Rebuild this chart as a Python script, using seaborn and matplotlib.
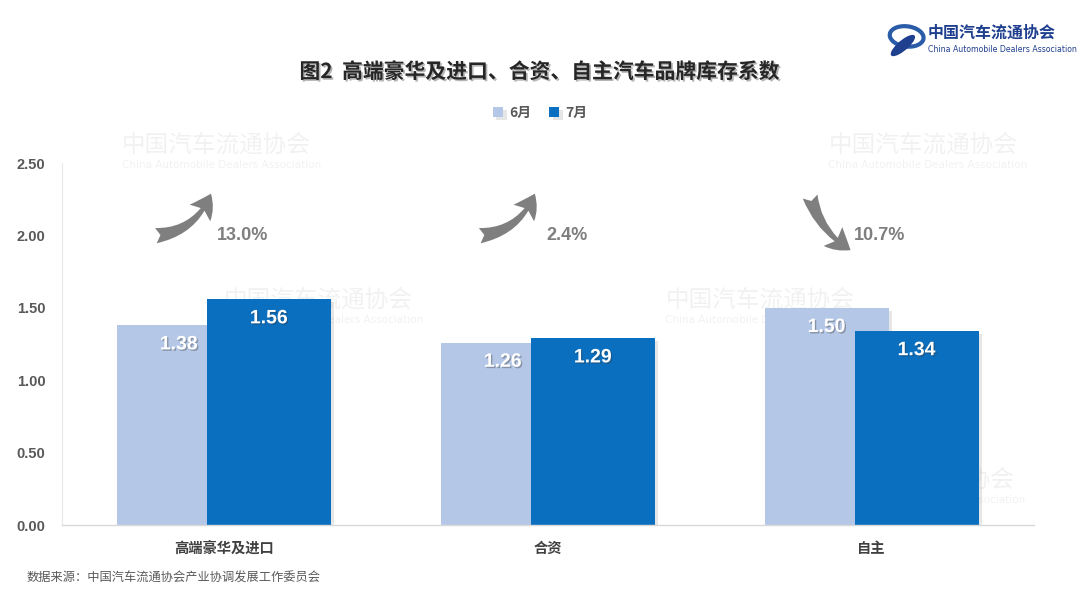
import numpy as np
import pandas as pd
import seaborn as sns
import matplotlib
matplotlib.use("Agg")
import matplotlib.pyplot as plt
import matplotlib.patheffects as pe
from matplotlib.patches import Ellipse

# ---- data ----
categories = ["高端豪华及进口", "合资", "自主"]
series_names = ["6月", "7月"]
june = [1.38, 1.26, 1.50]
july = [1.56, 1.29, 1.34]
change_labels = ["13.0%", "2.4%", "10.7%"]
change_dir = ["up", "up", "down"]
yticks = [0.0, 0.5, 1.0, 1.5, 2.0, 2.5]
title = "图2  高端豪华及进口、合资、自主汽车品牌库存系数"
source = "数据来源：中国汽车流通协会产业协调发展工作委员会"

sns.set_theme(style="white")
CJK = ["Noto Sans CJK SC", "DejaVu Sans"]
NUM = ["Liberation Sans", "DejaVu Sans"]
plt.rcParams["font.family"] = CJK
plt.rcParams["axes.unicode_minus"] = False

light = "#B4C7E7"
dark = "#0B6FBF"
grey_txt = "#595959"

fig = plt.figure(figsize=(10.8, 6.07), dpi=100)
fig.patch.set_facecolor("white")
ax = fig.add_axes([0.0574, 0.135, 0.8996, 0.596])
ax.patch.set_alpha(0)

# faint watermarks (behind the axes)
wm = [(0.113, 0.761), (0.767, 0.761), (0.207, 0.506), (0.616, 0.506), (0.765, 0.209)]
for (wx, wy) in wm:
    fig.text(wx, wy, "中国汽车流通协会", ha="left", va="center", fontsize=17,
             color="#000000", alpha=0.055, family=CJK, zorder=-5)
    fig.text(wx, wy - 0.033, "China Automobile Dealers Association", ha="left", va="center",
             fontsize=7.5, color="#000000", alpha=0.055, family=["DejaVu Sans"], zorder=-5)

pos = np.arange(len(categories))
off = 0.139
bw = 0.383
df1 = pd.DataFrame({"x": pos - off, "y": june})
df2 = pd.DataFrame({"x": pos + off, "y": july})

shadow = [pe.SimplePatchShadow(offset=(2.5, -2), alpha=0.18, shadow_rgbFace="#777777"), pe.Normal()]

sns.barplot(data=df1, x="x", y="y", native_scale=True, orient="x", width=bw,
            color=light, saturation=1, errorbar=None, ax=ax, label=series_names[0])
sns.barplot(data=df2, x="x", y="y", native_scale=True, orient="x", width=bw,
            color=dark, saturation=1, errorbar=None, ax=ax, label=series_names[1])
for p in ax.patches:
    p.set_path_effects(shadow)
    p.set_edgecolor("none")
if ax.get_legend() is not None:
    ax.get_legend().remove()

ax.set_xlim(-0.5, 2.5)
ax.set_ylim(0, 2.5)
ax.set_xticks(pos)
ax.set_xticklabels(categories, fontsize=10.3, color="#404040", fontweight="bold", family=CJK)
ax.set_yticks(yticks)
ax.set_yticklabels([f"{v:.2f}" for v in yticks], fontsize=10.5, color=grey_txt,
                   fontweight="bold", family=NUM)
ax.set_xlabel("")
ax.set_ylabel("")
ax.tick_params(axis="x", length=0, pad=12)
ax.tick_params(axis="y", length=3, width=0.8, color="#E3E3E3", pad=9, direction="out")
for s in ["top", "right"]:
    ax.spines[s].set_visible(False)
ax.spines["left"].set_color("#E8E8E8")
ax.spines["left"].set_linewidth(0.8)
ax.spines["bottom"].set_color("#D9D9D9")
ax.spines["bottom"].set_linewidth(1)
ax.grid(False)

# value labels inside bars
txt_shadow = [pe.withSimplePatchShadow(offset=(1, -1), alpha=0.35, shadow_rgbFace="#333333")]
for vals, sgn in ((june, -1), (july, 1)):
    for i, v in enumerate(vals):
        ax.text(i + sgn * off, v - 0.135, f"{v:.2f}", ha="center", va="center",
                color="white", fontsize=14, fontweight="bold", family=NUM,
                path_effects=txt_shadow)

# change arrows
for i, (lab, d) in enumerate(zip(change_labels, change_dir)):
    if d == "up":
        tail, head, rad = (i - 0.21, 2.0), (i - 0.04, 2.29), 0.3
    else:
        tail, head, rad = (i - 0.19, 2.27), (i - 0.065, 1.90), 0.2
    ax.annotate("", xy=head, xytext=tail,
                arrowprops=dict(arrowstyle="fancy,head_length=0.8,head_width=0.95,tail_width=0.55",
                                connectionstyle=f"arc3,rad={rad}", color="#7F7F7F",
                                mutation_scale=20, shrinkA=0, shrinkB=0, lw=0))
    ax.text(i + 0.058 - (0.033 if d == "down" else 0), 2.0, lab, ha="center", va="center",
            fontsize=13, fontweight="bold", color="#7F7F7F", family=NUM)

# legend
leg = fig.legend(loc="center", bbox_to_anchor=(0.5, 0.814), ncol=2, frameon=False,
                 handlelength=0.75, handleheight=0.75, columnspacing=1.3, handletextpad=0.4,
                 prop={"family": CJK, "weight": "bold", "size": 10})
for t in leg.get_texts():
    t.set_color(grey_txt)

# title
fig.text(0.5, 0.882, title, ha="center", va="center", fontsize=15, fontweight="bold",
         color="#262626", family=CJK,
         path_effects=[pe.withSimplePatchShadow(offset=(1.2, -1.2), alpha=0.3)])

# source
fig.text(0.025, 0.047, source, ha="left", va="center", fontsize=8.8, color=grey_txt, family=CJK)

# logo (top right)
fig.text(0.859, 0.947, "中国汽车流通协会", ha="left", va="center", fontsize=11.5,
         color="#1F3F8F", fontweight="bold", family=CJK)
fig.text(0.859, 0.918, "China Automobile Dealers Association", ha="left", va="center",
         fontsize=5.6, color="#1F3F8F", family=["DejaVu Sans"])
fig.patches.append(Ellipse((0.8395, 0.94), 0.03, 0.035, angle=30, transform=fig.transFigure,
                           facecolor="none", edgecolor="#2B5CA8", lw=3))
fig.patches.append(Ellipse((0.836, 0.925), 0.012, 0.04, angle=-30, transform=fig.transFigure,
                           facecolor="#1F3F8F", edgecolor="none"))

fig.savefig("out.png", dpi=100, facecolor="white")
